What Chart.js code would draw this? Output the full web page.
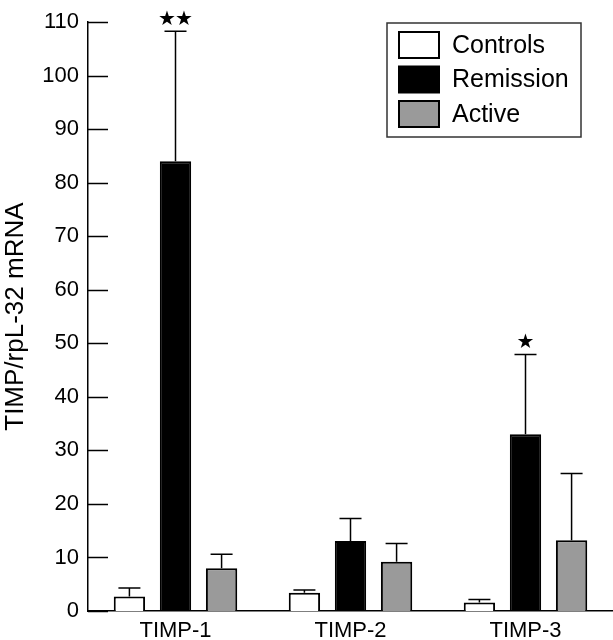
<!DOCTYPE html>
<html>
<head>
<meta charset="utf-8">
<script src="https://cdn.jsdelivr.net/npm/chart.js@4"></script>
<style>
  html, body { margin: 0; padding: 0; background: #fff; }
  #wrap { width: 613px; height: 640px; }
</style>
</head>
<body>
<div id="wrap"><canvas id="myChart" width="613" height="640"></canvas></div>
<script>
// DADOS
const categorias = ['TIMP-1', 'TIMP-2', 'TIMP-3'];
const controles = [2.7, 3.4, 1.6];
const controlesSD = [1.6, 0.5, 0.55];
const remissao = [84, 13.1, 33.0];
const remissaoSD = [24.3, 4.2, 14.9];
const ativo = [8.0, 9.2, 13.2];
const ativoSD = [2.6, 3.4, 12.5];
const remissaoSig = ['★★', '', '★'];
const ticksY = [0, 10, 20, 30, 40, 50, 60, 70, 80, 90, 100, 110];

const fonte = "'Liberation Sans', Arial, sans-serif";

// ERROS + ESTRELAS + TICKS PARA DENTRO + LEGENDA
const extras = {
  id: 'extras',
  afterDatasetsDraw(chart) {
    const ctx = chart.ctx;
    const y = chart.scales.y;
    ctx.save();
    ctx.strokeStyle = '#000';
    ctx.lineWidth = 1.5;
    chart.data.datasets.forEach((ds, i) => {
      const meta = chart.getDatasetMeta(i);
      meta.data.forEach((bar, j) => {
        const topo = y.getPixelForValue(ds.data[j] + ds.sd[j]);
        ctx.beginPath();
        ctx.moveTo(bar.x, bar.y);
        ctx.lineTo(bar.x, topo);
        ctx.moveTo(bar.x - 11, topo);
        ctx.lineTo(bar.x + 11, topo);
        ctx.stroke();
        if (ds.sig && ds.sig[j]) {
          const estrelas = Array.from(ds.sig[j]);
          ctx.fillStyle = '#000';
          ctx.font = '20px DejaVu Sans';
          ctx.textAlign = 'center';
          ctx.textBaseline = 'middle';
          estrelas.forEach((s, k) => {
            const dx = (k - (estrelas.length - 1) / 2) * 17;
            ctx.fillText(s, bar.x + dx, topo - 12);
          });
        }
      });
    });
    // ticks do eixo y para dentro
    ticksY.forEach(v => {
      const py = Math.round(y.getPixelForValue(v)) + 0.5;
      ctx.beginPath();
      ctx.moveTo(chart.chartArea.left, py);
      ctx.lineTo(chart.chartArea.left + 20, py);
      ctx.stroke();
    });
    // legenda
    const lx = 387, ly = 23, lw = 194, lh = 114;
    ctx.lineWidth = 1.5;
    ctx.strokeStyle = '#333';
    ctx.strokeRect(lx, ly, lw, lh);
    ctx.font = '25px ' + fonte;
    ctx.textAlign = 'left';
    ctx.textBaseline = 'middle';
    chart.data.datasets.forEach((ds, i) => {
      const by = ly + 9 + i * 34.5;
      ctx.fillStyle = ds.backgroundColor;
      ctx.fillRect(lx + 12, by, 40, 26);
      ctx.strokeStyle = '#000';
      ctx.lineWidth = 2;
      ctx.strokeRect(lx + 12, by, 40, 26);
      ctx.fillStyle = '#000';
      ctx.fillText(ds.label, lx + 65, by + 14);
    });
    ctx.restore();
  }
};

const ctx = document.getElementById('myChart');

new Chart(ctx, {
  type: 'bar',
  data: {
    labels: categorias,
    datasets: [
      { label: 'Controls', data: controles, sd: controlesSD, backgroundColor: '#ffffff', borderColor: '#000', borderWidth: 2 },
      { label: 'Remission', data: remissao, sd: remissaoSD, sig: remissaoSig, backgroundColor: '#000000', borderColor: '#000', borderWidth: 2 },
      { label: 'Active', data: ativo, sd: ativoSD, backgroundColor: '#9a9a9a', borderColor: '#000', borderWidth: 2 }
    ]
  },
  options: {
    responsive: false,
    animation: false,
    layout: { padding: { top: 11, right: 0, left: 0, bottom: 0 } },
    plugins: { legend: { display: false }, tooltip: { enabled: false } },
    datasets: { bar: { categoryPercentage: 0.79, barPercentage: 0.68 } },
    scales: {
      x: {
        grid: { display: false, drawTicks: false },
        border: { display: true, color: '#000', width: 1.5 },
        ticks: { color: '#000', font: { family: fonte, size: 22 }, padding: 7 },
        afterFit(scale) { scale.height = 29; }
      },
      y: {
        min: 0,
        max: 110,
        afterBuildTicks(scale) { scale.ticks = ticksY.map(v => ({ value: v })); },
        grid: { display: false, drawTicks: false },
        border: { display: true, color: '#000', width: 1.5 },
        ticks: { color: '#000', font: { family: fonte, size: 22 }, padding: 9 },
        title: { display: true, text: 'TIMP/rpL-32 mRNA', color: '#000', font: { family: fonte, size: 26 }, padding: 0 },
        afterFit(scale) { scale.width = 88; }
      }
    }
  },
  plugins: [extras]
});
</script>
</body>
</html>
